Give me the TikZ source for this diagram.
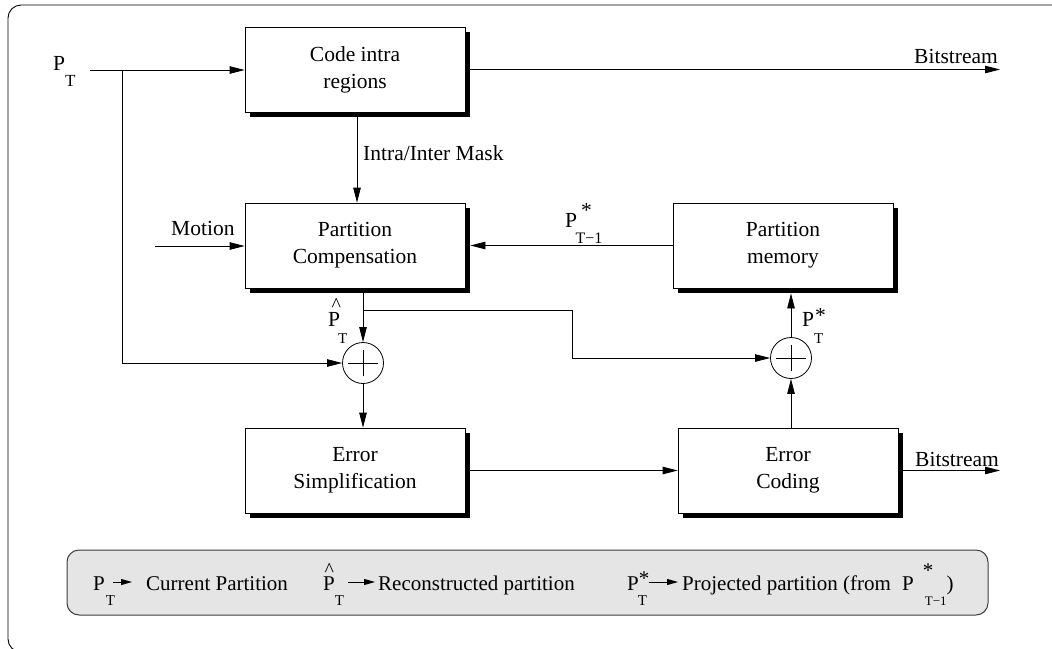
\documentclass[tikz,border=0pt]{standalone}
\usepackage{fontspec}
\setmainfont{Liberation Serif}
\usetikzlibrary{arrows.meta,shadows}

\definecolor{legfill}{RGB}{229,229,229}
\definecolor{legline}{RGB}{60,60,60}

% P with a lowered T (or T-1) subscript, and a hatted P
\newcommand{\lowT}[2]{\raisebox{#1}{\fontsize{#2}{#2}\selectfont T}}
\newcommand{\lowTm}[2]{\raisebox{#1}{\fontsize{#2}{#2}\selectfont T−1}}
\newcommand{\hatP}[2]{\rlap{\hspace{#1}\raisebox{#2}{\fontsize{20}{20}\selectfont\textasciicircum}}P}

\tikzset{
  blk/.style={draw, line width=0.8pt, fill=white, minimum width=220pt,
    minimum height=85pt, inner sep=0pt, align=center,
    general shadow={fill=black, shadow xshift=5pt, shadow yshift=-5pt}},
  sumnode/.style={circle, draw, line width=0.8pt, minimum size=41pt, inner sep=0pt},
  arr/.style={-{Triangle[length=15pt,width=7.5pt]}, line width=0.8pt},
  legarr/.style={-{Triangle[length=11pt,width=6pt]}, line width=1pt},
  lbl/.style={anchor=base west, inner sep=0pt},
  leglbl/.style={lbl, font=\fontsize{21}{25}\selectfont},
  frame/.style={draw, line width=0.9pt, rounded corners=13pt},
  legbox/.style={draw=legline, fill=legfill, line width=1pt, rounded corners=12pt,
    minimum width=921pt, minimum height=65pt, inner sep=0pt}
}

\begin{document}
\begin{tikzpicture}[x=1pt, y=-1pt, font=\fontsize{21.5}{27}\selectfont]
\useasboundingbox (0,0) rectangle (1052,648);

% outer frame, running off the right and bottom edges
\begin{scope}
  \clip (0,0) rectangle (1052,648);
  \path[frame] (8,5) rectangle (1090,652);
\end{scope}

% processing blocks
\node[blk] (code)  at (355,69.5)  {Code intra\\regions};
\node[blk] (comp)  at (355,245.5) {Partition\\Compensation};
\node[blk] (mem)   at (783,245.5) {Partition\\memory};
\node[blk] (esimp) at (355,470.5) {Error\\Simplification};
\node[blk] (ecode) at (788,470.5) {Error\\Coding};

% adders
\node[sumnode] (s1) at (363,363) {};
\node[sumnode] (s2) at (791,358) {};
\foreach \s in {s1,s2}{
  \draw[line width=0.7pt] ([xshift=-15pt]\s.center) -- ([xshift=15pt]\s.center);
  \draw[line width=0.7pt] ([yshift=-13pt]\s.center) -- ([yshift=13pt]\s.center);
}

% free ends and bends
\coordinate (pin)   at (90,70);
\coordinate (split) at (122,70);
\coordinate (bs1)   at (1000,70);
\coordinate (mot)   at (155,246);
\coordinate (tap)   at (363,310);
\coordinate (bend)  at (572,310);
\coordinate (bs2)   at (1000,471);

% connectors
\draw[arr] (pin) -- (pin -| code.west);
\draw[arr] (split) |- (s1.west);
\draw[arr] (code.east) -- (code.east -| bs1);
\draw[arr] ([xshift=2pt]code.south) -- ([xshift=2pt]comp.north);
\draw[arr] (mot) -- (mot -| comp.west);
\draw[arr] (mem.west) -- ([xshift=5pt]comp.east);
\draw[arr] ([xshift=8pt]comp.south) -- (s1.north);
\draw[arr] (tap) -- (bend) |- (s2.west);
\draw[arr] (s1.south) -- (s1.south |- esimp.north);
\draw[arr] (esimp.east) -- (esimp.east -| ecode.west);
\draw[arr] (s2 |- ecode.north) -- (s2.south);
\draw[arr] (s2.north) -- ([yshift=-5pt]s2 |- mem.south);
\draw[arr] (ecode.east) -- (ecode.east -| bs2);

% signal labels
\node[lbl] (ptin)  at (53,70)   {P\lowT{-16pt}{17}};
\node[lbl] (bst1)  at (914,63)  {Bitstream};
\node[lbl] (mask)  at (363,160) {Intra/Inter Mask};
\node[lbl] (motl)  at (171,235) {Motion};
\node[lbl] (pmem)  at (565,227) {P\rlap{\kern-1.5pt\lowTm{-16pt}{16}}\kern4pt\raisebox{10pt}{*}};
\node[lbl] (phat)  at (328,326) {\hatP{3.5pt}{15pt}\kern-2pt\lowT{-17pt}{15}};
\node[lbl] (pstar) at (802,326) {P\rlap{\lowT{-17pt}{15}}\kern1pt\raisebox{4pt}{*}};
\node[lbl] (bst2)  at (915,466) {Bitstream};

% legend
\node[legbox] (legend) at (527.5,582.5) {};
\coordinate (la1) at (113,582); \coordinate (lb1) at (132,582);
\coordinate (la2) at (348,582); \coordinate (lb2) at (375,582);
\coordinate (la3) at (649,582); \coordinate (lb3) at (678,582);
\node[leglbl] (l1)  at (93,590)  {P\kern1pt\lowT{-15pt}{15}};
\node[leglbl] (l1t) at (146,590) {Current Partition};
\node[leglbl] (l2)  at (323,590) {\hatP{1.5pt}{14pt}\lowT{-15pt}{15}};
\node[leglbl] (l2t) at (378,590) {Reconstructed partition};
\node[leglbl] (l3)  at (627,590) {P\rlap{\kern-1pt\lowT{-15pt}{15}}\raisebox{5pt}{*}};
\node[leglbl] (l3t) at (682,590) {Projected partition (from};
\node[leglbl] (l4)  at (902,590) {P\kern9pt\rlap{\raisebox{13pt}{*}}\kern2pt\lowTm{-15pt}{13})};
\draw[legarr] (la1) -- (lb1);
\draw[legarr] (la2) -- (lb2);
\draw[legarr] (la3) -- (lb3);
\end{tikzpicture}
\end{document}
